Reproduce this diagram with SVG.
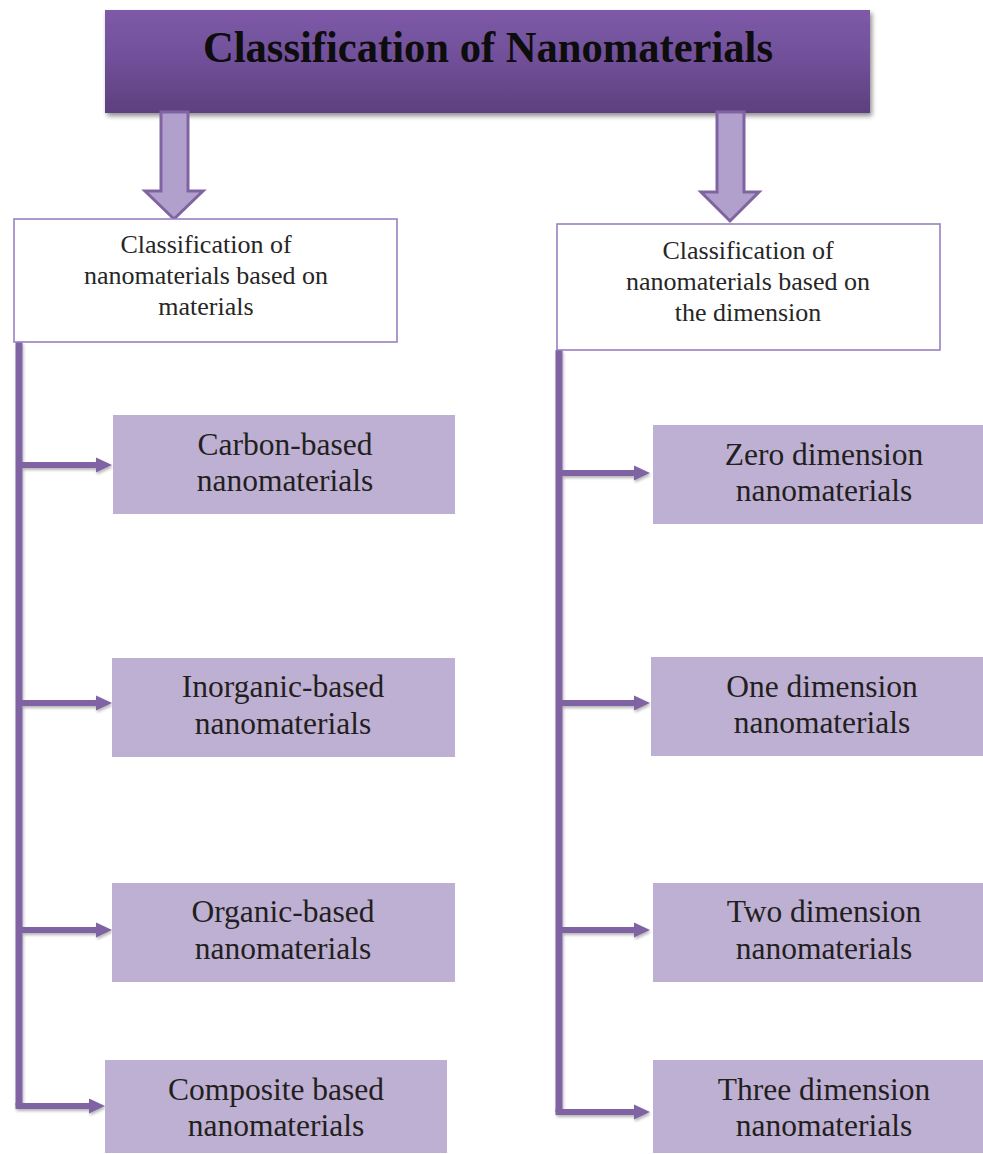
<svg xmlns="http://www.w3.org/2000/svg" width="983" height="1154" viewBox="0 0 983 1154">
  <style>
    text { font-family: 'Liberation Serif', 'DejaVu Serif', serif; }
    .title { font-weight: bold; font-size: 44px; fill: #0d0d0d; }
    .head  { font-size: 26px; fill: #262626; }
    .item  { font-size: 31.5px; fill: #231f20; }
    .headbox { fill: #ffffff; stroke: #9a80c0; stroke-width: 1.6; }
    .itembox { fill: #beb0d3; }
    .wire  { stroke: #8064a2; stroke-width: 7; fill: none; }
    .shaft { stroke: #8064a2; stroke-width: 6; fill: none; }
    .head-tip { fill: #8064a2; }
    .bigarrow { fill: #b1a0cc; stroke: #8064a2; stroke-width: 3; stroke-linejoin: miter; }
  </style>
  <defs>
    <linearGradient id="titleFill" x1="0" y1="0" x2="0" y2="1">
      <stop offset="0" stop-color="#7d5aa8"/>
      <stop offset="0.5" stop-color="#704f98"/>
      <stop offset="1" stop-color="#5d407e"/>
    </linearGradient>
    <filter id="shadow" x="-5%" y="-10%" width="110%" height="130%">
      <feGaussianBlur in="SourceAlpha" stdDeviation="2.5"/>
      <feOffset dx="2" dy="3" result="b"/>
      <feComponentTransfer><feFuncA type="linear" slope="0.45"/></feComponentTransfer>
      <feMerge><feMergeNode/><feMergeNode in="SourceGraphic"/></feMerge>
    </filter>
    <filter id="softShadow" x="-10%" y="-10%" width="120%" height="140%">
      <feGaussianBlur in="SourceAlpha" stdDeviation="1.5"/>
      <feOffset dx="1" dy="2" result="b"/>
      <feComponentTransfer><feFuncA type="linear" slope="0.3"/></feComponentTransfer>
      <feMerge><feMergeNode/><feMergeNode in="SourceGraphic"/></feMerge>
    </filter>
  </defs>

  <!-- Title -->
  <g id="title">
    <rect x="105" y="10" width="765" height="103" fill="url(#titleFill)" filter="url(#shadow)"/>
    <text class="title" x="488" y="62" text-anchor="middle" textLength="570" lengthAdjust="spacingAndGlyphs">Classification of Nanomaterials</text>
  </g>

  <!-- Connectors -->
  <g id="connectors">
    <!-- block arrows from title -->
    <path class="bigarrow" d="M161,112 L188,112 L188,191 L203,191 L174,219 L145,191 L161,191 Z"/>
    <path class="bigarrow" d="M717,112 L744,112 L744,192 L759,192 L730,221 L701,192 L717,192 Z"/>

    <g filter="url(#softShadow)">
      <!-- left trunk and branches -->
      <path class="wire" d="M19,342 L19,1106"/>
      <path class="shaft" d="M19,465 L99,465"/>
      <path class="shaft" d="M19,703 L99,703"/>
      <path class="shaft" d="M19,930 L99,930"/>
      <path class="shaft" d="M15.5,1106 L92,1106"/>
      <polygon class="head-tip" points="96,457.5 112,465 96,472.5"/>
      <polygon class="head-tip" points="96,695.5 112,703 96,710.5"/>
      <polygon class="head-tip" points="96,922.5 112,930 96,937.5"/>
      <polygon class="head-tip" points="89,1098.5 105,1106 89,1113.5"/>

      <!-- right trunk and branches -->
      <path class="wire" d="M559,350 L559,1112"/>
      <path class="shaft" d="M559,473 L637,473"/>
      <path class="shaft" d="M559,703 L637,703"/>
      <path class="shaft" d="M559,930 L637,930"/>
      <path class="shaft" d="M555.5,1112 L637,1112"/>
      <polygon class="head-tip" points="634,465.5 650,473 634,480.5"/>
      <polygon class="head-tip" points="634,695.5 650,703 634,710.5"/>
      <polygon class="head-tip" points="634,922.5 650,930 634,937.5"/>
      <polygon class="head-tip" points="634,1104.5 650,1112 634,1119.5"/>
    </g>
  </g>

  <!-- Category headers -->
  <g id="by-material">
    <rect class="headbox" x="14" y="219" width="383" height="123"/>
    <text class="head" text-anchor="middle" x="206" y="253">Classification of</text>
    <text class="head" text-anchor="middle" x="206" y="284">nanomaterials based on</text>
    <text class="head" text-anchor="middle" x="206" y="315">materials</text>
  </g>
  <g id="by-dimension">
    <rect class="headbox" x="557" y="224" width="383" height="126"/>
    <text class="head" text-anchor="middle" x="748" y="259">Classification of</text>
    <text class="head" text-anchor="middle" x="748" y="290">nanomaterials based on</text>
    <text class="head" text-anchor="middle" x="748" y="321">the dimension</text>
  </g>

  <!-- Material-based classes -->
  <g id="carbon">
    <rect class="itembox" x="113" y="415" width="342" height="99"/>
    <text class="item" text-anchor="middle" x="285" y="455">Carbon-based</text>
    <text class="item" text-anchor="middle" x="285" y="491">nanomaterials</text>
  </g>
  <g id="inorganic">
    <rect class="itembox" x="112" y="658" width="343" height="99"/>
    <text class="item" text-anchor="middle" x="283" y="697">Inorganic-based</text>
    <text class="item" text-anchor="middle" x="283" y="734">nanomaterials</text>
  </g>
  <g id="organic">
    <rect class="itembox" x="112" y="883" width="343" height="99"/>
    <text class="item" text-anchor="middle" x="283" y="922">Organic-based</text>
    <text class="item" text-anchor="middle" x="283" y="959">nanomaterials</text>
  </g>
  <g id="composite">
    <rect class="itembox" x="105" y="1060" width="342" height="93"/>
    <text class="item" text-anchor="middle" x="276" y="1100">Composite based</text>
    <text class="item" text-anchor="middle" x="276" y="1136">nanomaterials</text>
  </g>

  <!-- Dimension-based classes -->
  <g id="zero-d">
    <rect class="itembox" x="653" y="425" width="330" height="99"/>
    <text class="item" text-anchor="middle" x="824" y="465">Zero dimension</text>
    <text class="item" text-anchor="middle" x="824" y="501">nanomaterials</text>
  </g>
  <g id="one-d">
    <rect class="itembox" x="651" y="657" width="332" height="99"/>
    <text class="item" text-anchor="middle" x="822" y="697">One dimension</text>
    <text class="item" text-anchor="middle" x="822" y="733">nanomaterials</text>
  </g>
  <g id="two-d">
    <rect class="itembox" x="653" y="883" width="330" height="99"/>
    <text class="item" text-anchor="middle" x="824" y="922">Two dimension</text>
    <text class="item" text-anchor="middle" x="824" y="959">nanomaterials</text>
  </g>
  <g id="three-d">
    <rect class="itembox" x="653" y="1060" width="330" height="93"/>
    <text class="item" text-anchor="middle" x="824" y="1100">Three dimension</text>
    <text class="item" text-anchor="middle" x="824" y="1136">nanomaterials</text>
  </g>
</svg>
